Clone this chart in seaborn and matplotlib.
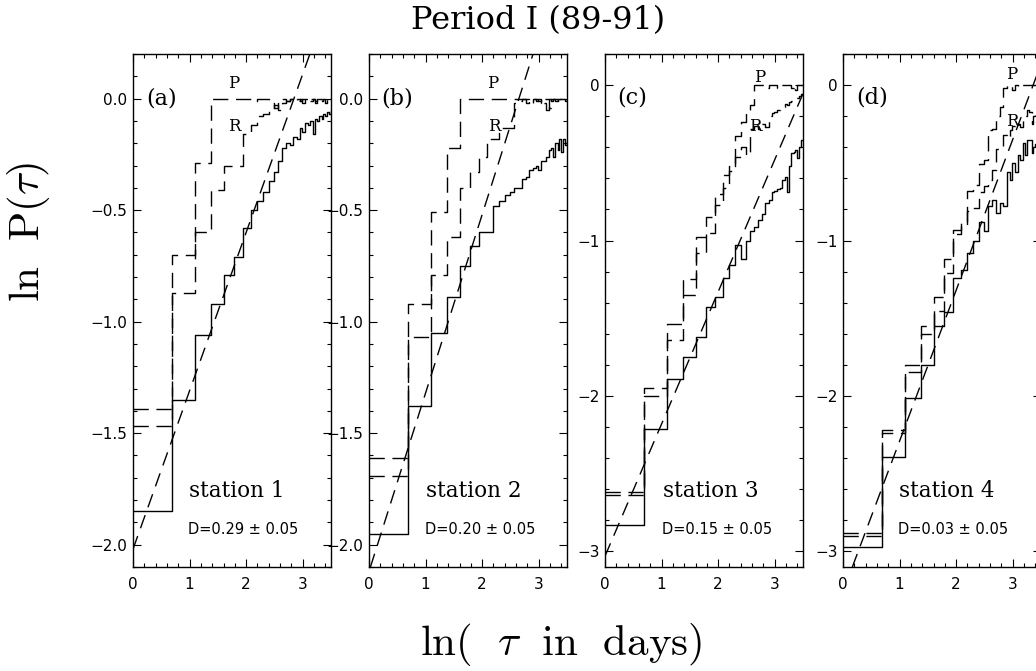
import numpy as np
import pandas as pd
import matplotlib
matplotlib.use("Agg")
import matplotlib.pyplot as plt
import seaborn as sns
from matplotlib.ticker import MultipleLocator

# ---------------- data ----------------
tau_days = list(range(1, 35))          # tau = 1 .. 34 days
panel_letters = ["(a)", "(b)", "(c)", "(d)"]
station_names = ["station 1", "station 2", "station 3", "station 4"]
D_values = [0.29, 0.20, 0.15, 0.03]
D_error = 0.05
fit_intercepts = [-2.02, -2.12, -3.03, -3.26]   # fitted line: y = a + (1-D) x

solid_a = [-1.85, -1.35, -1.06, -0.92, -0.79, -0.71, -0.58, -0.50, -0.46, -0.42, -0.37, -0.33,
           -0.28, -0.22, -0.20, -0.21, -0.17, -0.18, -0.13, -0.15, -0.11, -0.12, -0.10, -0.16,
           -0.09, -0.10, -0.08, -0.09, -0.07, -0.08, -0.06, -0.07, -0.05, -0.05]
P_a = [-1.39, -0.70, -0.29, 0.0, 0.0, 0.0, 0.0, -0.01, 0.0, 0.0, -0.02, -0.04, 0.0, 0.0, -0.01,
       0.0, 0.0, -0.01, 0.0, -0.02, 0.0, 0.0, -0.01, 0.0, -0.02, 0.0, 0.0, -0.01, 0.0, -0.02,
       0.0, 0.0, 0.0, 0.0]
R_a = [-1.47, -0.87, -0.60, -0.41, -0.30, -0.30, -0.16, -0.12, -0.08, -0.07, -0.05, -0.03, -0.05,
       -0.02, -0.01, 0.0, -0.01, 0.0, -0.01, 0.0, 0.0, -0.01, 0.0, 0.0, -0.01, 0.0, 0.0, 0.0,
       0.0, 0.0, 0.0, 0.0, 0.0, 0.0]

solid_b = [-1.95, -1.38, -1.05, -0.89, -0.75, -0.66, -0.60, -0.60, -0.48, -0.46, -0.43, -0.42,
           -0.40, -0.40, -0.36, -0.35, -0.32, -0.31, -0.30, -0.32, -0.28, -0.28, -0.26, -0.23,
           -0.22, -0.26, -0.20, -0.23, -0.18, -0.24, -0.18, -0.21, -0.19, -0.19]
P_b = [-1.61, -0.92, -0.51, -0.22, 0.0, 0.0, 0.0, 0.0, 0.0, 0.0, 0.0, 0.0, 0.0, 0.0, 0.0, 0.0,
       -0.02, 0.0, 0.0, -0.01, 0.0, -0.02, -0.05, 0.0, -0.01, 0.0, 0.0, -0.02, 0.0, 0.0, 0.0,
       -0.01, 0.0, 0.0]
R_b = [-1.69, -1.07, -0.79, -0.62, -0.40, -0.33, -0.26, -0.18, -0.18, -0.13, -0.13, -0.13,
       -0.02, -0.01, 0.0, -0.02, -0.01, 0.0, -0.01, 0.0, -0.02, 0.0, 0.0, -0.04, 0.0, 0.0,
       -0.01, 0.0, 0.0, 0.0, 0.0, 0.0, 0.0, 0.0]

solid_c = [-2.83, -2.21, -1.89, -1.75, -1.62, -1.43, -1.36, -1.24, -1.16, -1.03, -1.12, -1.00,
           -0.94, -0.91, -0.87, -0.83, -0.76, -0.74, -0.69, -0.68, -0.67, -0.66, -0.61, -0.59,
           -0.69, -0.52, -0.44, -0.43, -0.42, -0.47, -0.40, -0.35, -0.35, -0.34]
P_c = [-2.62, -1.95, -1.54, -1.25, -0.98, -0.85, -0.70, -0.58, -0.52, -0.33, -0.24, -0.16,
       -0.13, 0.0, 0.0, 0.0, -0.02, 0.0, 0.0, 0.0, -0.02, 0.0, 0.0, 0.0, 0.0, 0.0, -0.02, 0.0,
       -0.03, 0.0, 0.0, 0.0, 0.0, 0.0]
R_c = [-2.64, -2.00, -1.64, -1.35, -1.08, -0.95, -0.77, -0.66, -0.55, -0.46, -0.40, -0.45,
       -0.28, -0.26, -0.28, -0.25, -0.27, -0.20, -0.18, -0.17, -0.16, -0.15, -0.14, -0.12,
       -0.13, -0.11, -0.10, -0.09, -0.08, -0.08, -0.07, -0.06, -0.05, -0.05]

solid_d = [-2.97, -2.39, -2.01, -1.80, -1.55, -1.46, -1.24, -1.19, -1.08, -1.00, -0.88, -0.94,
           -0.78, -0.74, -0.82, -0.76, -0.78, -0.56, -0.61, -0.50, -0.56, -0.45, -0.48, -0.37,
           -0.45, -0.35, -0.35, -0.44, -0.40, -0.38, -0.36, -0.36, -0.35, -0.35]
P_d = [-2.88, -2.22, -1.80, -1.55, -1.36, -1.12, -0.96, -0.89, -0.68, -0.64, -0.51, -0.48,
       -0.29, -0.28, -0.20, -0.14, -0.02, 0.0, 0.0, -0.03, 0.0, -0.01, 0.0, 0.0, 0.0, 0.0, 0.0,
       0.0, 0.0, 0.0, 0.0, 0.0, 0.0, 0.0]
R_d = [-2.90, -2.235, -1.845, -1.60, -1.45, -1.21, -0.93, -0.90, -0.81, -0.79, -0.69, -0.65,
       -0.61, -0.545, -0.41, -0.40, -0.32, -0.34, -0.29, -0.26, -0.24, -0.25, -0.27, -0.22,
       -0.20, -0.16, -0.17, -0.25, -0.20, -0.16, -0.15, -0.14, -0.13, -0.12]

title_text = "Period I (89-91)"
xlabel_text = r"$\mathrm{ln(\ \ }\tau\mathrm{\ \ in\ \ days)}$"
ylabel_text = r"$\mathrm{ln\ \ P(}\tau\mathrm{)}$"

# ---------------- style ----------------
sns.set_style("ticks")
plt.rcParams["font.family"] = ["DejaVu Sans"]
plt.rcParams["mathtext.fontset"] = "cm"
for key in ["text.color", "axes.labelcolor", "xtick.color", "ytick.color", "axes.edgecolor"]:
    plt.rcParams[key] = "black"

ln_tau = np.log(tau_days)
solids = [solid_a, solid_b, solid_c, solid_d]
Ps = [P_a, P_b, P_c, P_d]
Rs = [R_a, R_b, R_c, R_d]
ylims = [(-2.1, 0.2), (-2.1, 0.2), (-3.1, 0.2), (-3.1, 0.2)]
ymajor = [0.5, 0.5, 1.0, 1.0]
yminor = [0.1, 0.1, 0.2, 0.2]

W, H = 1036, 671
fig = plt.figure(figsize=(W / 100, H / 100), dpi=100)
lefts_px = [133, 369, 605, 843]
ax_w_px, top_px, bot_px = 198, 54, 567

# text positions (axes fraction)
letter_pos = [(0.146, 0.914), (0.141, 0.914), (0.136, 0.916), (0.146, 0.916)]
P_pos = [(0.51, 0.943), (0.626, 0.943), (0.783, 0.955), (0.854, 0.961)]
R_pos = [(0.51, 0.858), (0.631, 0.858), (0.758, 0.858), (0.854, 0.869)]
station_pos = [(0.525, 0.148), (0.53, 0.148), (0.535, 0.148), (0.525, 0.148)]
D_pos = [(0.556, 0.074), (0.561, 0.074), (0.566, 0.074), (0.556, 0.074)]

dash_pr = (0, (11, 5.5))
dash_fit = (0, (10, 6))

for i in range(4):
    ax = fig.add_axes([lefts_px[i] / W, 1 - bot_px / H, ax_w_px / W, (bot_px - top_px) / H])
    df = pd.DataFrame({"ln_tau": ln_tau, "solid": solids[i], "P": Ps[i], "R": Rs[i]})
    sns.lineplot(data=df, x="ln_tau", y="solid", ax=ax, color="black", lw=1.0,
                 drawstyle="steps-post", estimator=None, sort=False)
    sns.lineplot(data=df, x="ln_tau", y="P", ax=ax, color="black", lw=1.0,
                 drawstyle="steps-post", estimator=None, sort=False, linestyle=dash_pr)
    sns.lineplot(data=df, x="ln_tau", y="R", ax=ax, color="black", lw=1.0,
                 drawstyle="steps-post", estimator=None, sort=False, linestyle=dash_pr)
    ax.axline((0, fit_intercepts[i]), slope=1 - D_values[i], color="black", lw=1.0,
              linestyle=dash_fit)

    ax.set_xlim(0, 3.5)
    ax.set_ylim(*ylims[i])
    ax.xaxis.set_major_locator(MultipleLocator(1))
    ax.xaxis.set_minor_locator(MultipleLocator(0.2))
    ax.yaxis.set_major_locator(MultipleLocator(ymajor[i]))
    ax.yaxis.set_minor_locator(MultipleLocator(yminor[i]))
    ax.tick_params(which="both", direction="in", top=True, right=True, width=0.8,
                   labelsize=11, colors="black")
    ax.tick_params(which="major", length=6)
    ax.tick_params(which="minor", length=3)
    ax.tick_params(axis="y", pad=4)
    ax.tick_params(axis="x", pad=7)
    for s in ax.spines.values():
        s.set_linewidth(1.0)
        s.set_color("black")
    ax.set_xlabel("")
    ax.set_ylabel("")

    ax.text(*letter_pos[i], panel_letters[i], transform=ax.transAxes, ha="center", va="center",
            fontsize=16, family="DejaVu Serif")
    ax.text(*P_pos[i], "P", transform=ax.transAxes, ha="center", va="center",
            fontsize=12, family="DejaVu Serif")
    ax.text(*R_pos[i], "R", transform=ax.transAxes, ha="center", va="center",
            fontsize=12, family="DejaVu Serif")
    ax.text(*station_pos[i], station_names[i], transform=ax.transAxes, ha="center",
            va="center", fontsize=15.5, family="DejaVu Serif")
    ax.text(*D_pos[i], f"D={D_values[i]:.2f} \u00b1 {D_error:.2f}", transform=ax.transAxes,
            ha="center", va="center", fontsize=10.5, family="DejaVu Sans")

fig.text(538 / W, 1 - 21 / H, title_text, ha="center", va="center", fontsize=23,
         family="DejaVu Serif")
fig.text(561 / W, 1 - 645 / H, xlabel_text, ha="center", va="center", fontsize=31)
fig.text(28 / W, 1 - 232 / H, ylabel_text, ha="center", va="center", fontsize=31,
         rotation=90)

fig.savefig("out.png", dpi=100, facecolor="white")
